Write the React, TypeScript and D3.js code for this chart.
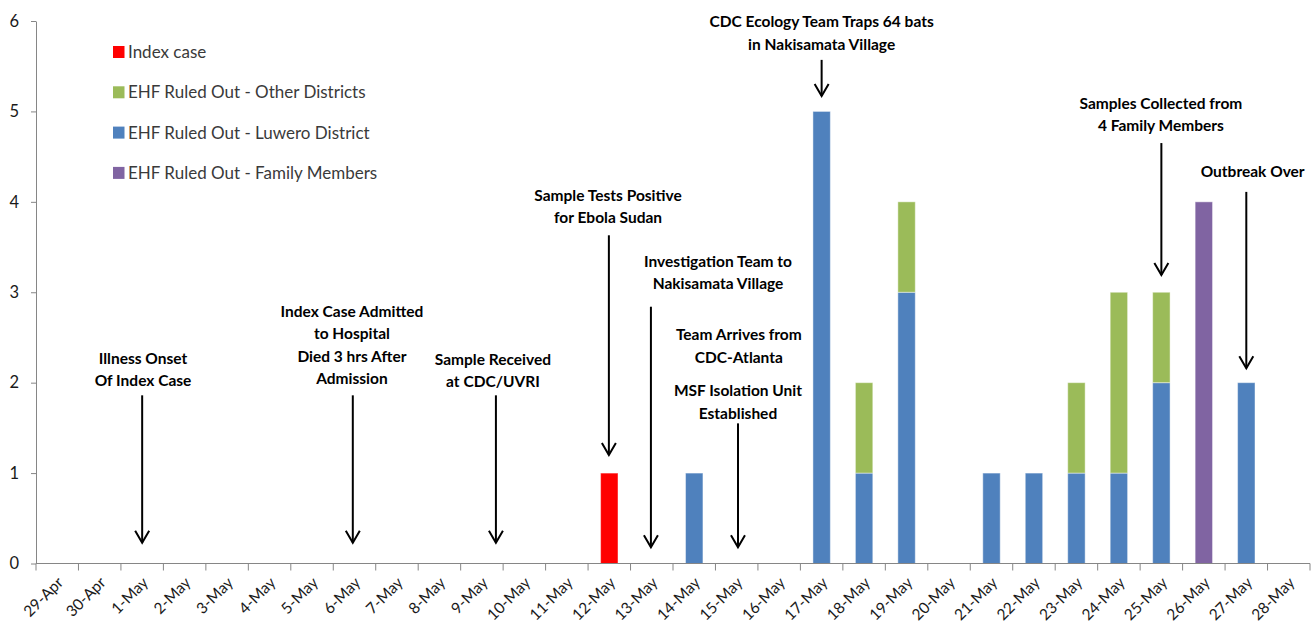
import React, { useEffect, useRef } from 'react';
import * as d3 from 'd3';

const dates = [
  '29-Apr', '30-Apr', '1-May', '2-May', '3-May', '4-May', '5-May', '6-May', '7-May', '8-May',
  '9-May', '10-May', '11-May', '12-May', '13-May', '14-May', '15-May', '16-May', '17-May', '18-May',
  '19-May', '20-May', '21-May', '22-May', '23-May', '24-May', '25-May', '26-May', '27-May', '28-May',
];

// one value per date
const indexCase = [0, 0, 0, 0, 0, 0, 0, 0, 0, 0, 0, 0, 0, 1, 0, 0, 0, 0, 0, 0, 0, 0, 0, 0, 0, 0, 0, 0, 0, 0];
const luwero = [0, 0, 0, 0, 0, 0, 0, 0, 0, 0, 0, 0, 0, 0, 0, 1, 0, 0, 5, 1, 3, 0, 1, 1, 1, 1, 2, 0, 2, 0];
const otherDistricts = [0, 0, 0, 0, 0, 0, 0, 0, 0, 0, 0, 0, 0, 0, 0, 0, 0, 0, 0, 1, 1, 0, 0, 0, 1, 2, 1, 0, 0, 0];
const familyMembers = [0, 0, 0, 0, 0, 0, 0, 0, 0, 0, 0, 0, 0, 0, 0, 0, 0, 0, 0, 0, 0, 0, 0, 0, 0, 0, 0, 4, 0, 0];

const yTicks = [0, 1, 2, 3, 4, 5, 6];

const seriesKeys = ['index', 'luwero', 'other', 'family'];
const seriesColors = ['#FF0000', '#4F81BD', '#9BBB59', '#8064A2'];

const legendItems = [
  { label: 'Index case', color: '#FF0000' },
  { label: 'EHF Ruled Out - Other Districts', color: '#9BBB59' },
  { label: 'EHF Ruled Out - Luwero District', color: '#4F81BD' },
  { label: 'EHF Ruled Out - Family Members', color: '#8064A2' },
];

// positions in date-index units (x) and case units (y)
const annotations = [
  { lines: ['Illness Onset', 'Of Index Case'], tx: 2.52, ty: 2.27, ax: 2.5, from: 1.86, to: 0.23 },
  { lines: ['Index Case Admitted', 'to Hospital', 'Died 3 hrs After', 'Admission'], tx: 7.44, ty: 2.79, ax: 7.46, from: 1.86, to: 0.23 },
  { lines: ['Sample Received', 'at CDC/UVRI'], tx: 10.76, ty: 2.26, ax: 10.83, from: 1.86, to: 0.23 },
  { lines: ['Sample Tests Positive', 'for Ebola Sudan'], tx: 13.47, ty: 4.07, ax: 13.49, from: 3.63, to: 1.2 },
  { lines: ['Investigation Team to', 'Nakisamata Village'], tx: 16.06, ty: 3.34, ax: 14.48, from: 2.84, to: 0.18 },
  { lines: ['Team Arrives from', 'CDC-Atlanta'], tx: 16.55, ty: 2.53, ax: null, from: 0, to: 0 },
  { lines: ['MSF Isolation Unit', 'Established'], tx: 16.53, ty: 1.91, ax: 16.53, from: 1.55, to: 0.18 },
  { lines: ['CDC Ecology Team Traps 64 bats', 'in Nakisamata Village'], tx: 18.5, ty: 5.99, ax: 18.5, from: 5.57, to: 5.17 },
  { lines: ['Samples Collected from', '4 Family Members'], tx: 26.49, ty: 5.09, ax: 26.5, from: 4.65, to: 3.19 },
  { lines: ['Outbreak Over'], tx: 28.65, ty: 4.34, ax: 28.5, from: 4.11, to: 2.16 },
];

const App: React.FC = () => {
  const ref = useRef<SVGSVGElement>(null);

  useEffect(() => {
    if (!ref.current) return;
    const svg = d3.select(ref.current);
    svg.selectAll('*').remove();

    const width = 1314;
    const height = 638;
    const left = 36;
    const right = 1310;
    const top = 21;
    const bottom = 563.5;

    const font = 'Lato, "Open Sans", sans-serif';
    const axisColor = '#868686';

    const x = d3.scaleBand<string>()
      .domain(dates)
      .range([left, right])
      .paddingInner(0.59)
      .paddingOuter(0.295);

    const xi = d3.scaleLinear().domain([0, dates.length]).range([left, right]);

    const y = d3.scaleLinear().domain([0, 6]).range([bottom, top]);

    svg.attr('width', width).attr('height', height);

    // stacked bars
    const table = dates.map((d, i) => ({
      date: d,
      index: indexCase[i],
      luwero: luwero[i],
      other: otherDistricts[i],
      family: familyMembers[i],
    }));
    const stacked = d3.stack<any>().keys(seriesKeys)(table);

    stacked.forEach((layer, li) => {
      svg.append('g')
        .selectAll('rect')
        .data(layer.filter(d => d[1] - d[0] > 0))
        .enter()
        .append('rect')
          .attr('x', d => x(d.data.date) as number)
          .attr('width', x.bandwidth())
          .attr('y', d => y(d[1]))
          .attr('height', d => y(d[0]) - y(d[1]))
          .attr('fill', seriesColors[li])
          .attr('stroke', 'rgba(255,255,255,0.45)')
          .attr('stroke-width', 1);
    });

    // y axis
    const yAxis = svg.append('g')
      .attr('transform', `translate(${left},0)`)
      .call(d3.axisLeft(y).tickValues(yTicks).tickSize(5).tickSizeOuter(0).tickPadding(12).tickFormat(d3.format('d')));
    yAxis.select('.domain').attr('stroke', axisColor);
    yAxis.selectAll('line').attr('stroke', axisColor);
    yAxis.selectAll('text')
      .attr('font-family', font)
      .attr('font-size', '16.5px')
      .attr('fill', '#1a1a1a');

    // x axis
    svg.append('line')
      .attr('x1', left).attr('x2', right)
      .attr('y1', bottom).attr('y2', bottom)
      .attr('stroke', axisColor);

    svg.append('g')
      .selectAll('line')
      .data(d3.range(dates.length + 1))
      .enter()
      .append('line')
        .attr('x1', d => xi(d)).attr('x2', d => xi(d))
        .attr('y1', bottom).attr('y2', bottom + 7)
        .attr('stroke', axisColor);

    svg.append('g')
      .selectAll('text')
      .data(dates)
      .enter()
      .append('text')
        .attr('transform', d => `translate(${(x(d) as number) + x.bandwidth() / 2 + 7},${bottom + 20}) rotate(-45)`)
        .attr('text-anchor', 'end')
        .attr('font-family', font)
        .attr('font-size', '15.5px')
        .attr('fill', '#1a1a1a')
        .text(d => d);

    // legend
    const legend = svg.append('g');
    legendItems.forEach((item, i) => {
      const ly = 52 + i * 40.3;
      legend.append('rect')
        .attr('x', 113).attr('y', ly - 6)
        .attr('width', 11.5).attr('height', 12)
        .attr('fill', item.color);
      legend.append('text')
        .attr('x', 128).attr('y', ly)
        .attr('dy', '0.35em')
        .attr('font-family', font)
        .attr('font-size', '17px')
        .attr('fill', '#3a3a3a')
        .text(item.label);
    });

    // annotations
    const ann = svg.append('g');
    annotations.forEach(a => {
      const t = ann.append('text')
        .attr('text-anchor', 'middle')
        .attr('font-family', font)
        .attr('font-weight', 'bold')
        .attr('font-size', '15.5px')
        .attr('fill', '#000');
      a.lines.forEach((line, i) => {
        t.append('tspan')
          .attr('x', xi(a.tx))
          .attr('y', y(a.ty) + i * 22.5)
          .attr('dy', '0.35em')
          .text(line);
      });
      if (a.ax !== null) {
        const ax = xi(a.ax);
        const y1 = y(a.from);
        const y2 = y(a.to);
        ann.append('line')
          .attr('x1', ax).attr('x2', ax)
          .attr('y1', y1).attr('y2', y2)
          .attr('stroke', '#000')
          .attr('stroke-width', 2);
        ann.append('path')
          .attr('d', `M${ax - 7},${y2 - 12} L${ax},${y2} L${ax + 7},${y2 - 12}`)
          .attr('fill', 'none')
          .attr('stroke', '#000')
          .attr('stroke-width', 2);
      }
    });
  }, []);

  return (
    <svg ref={ref} style={{ position: 'absolute', left: 0, top: 0, background: '#fff' }} />
  );
};

export default App;
